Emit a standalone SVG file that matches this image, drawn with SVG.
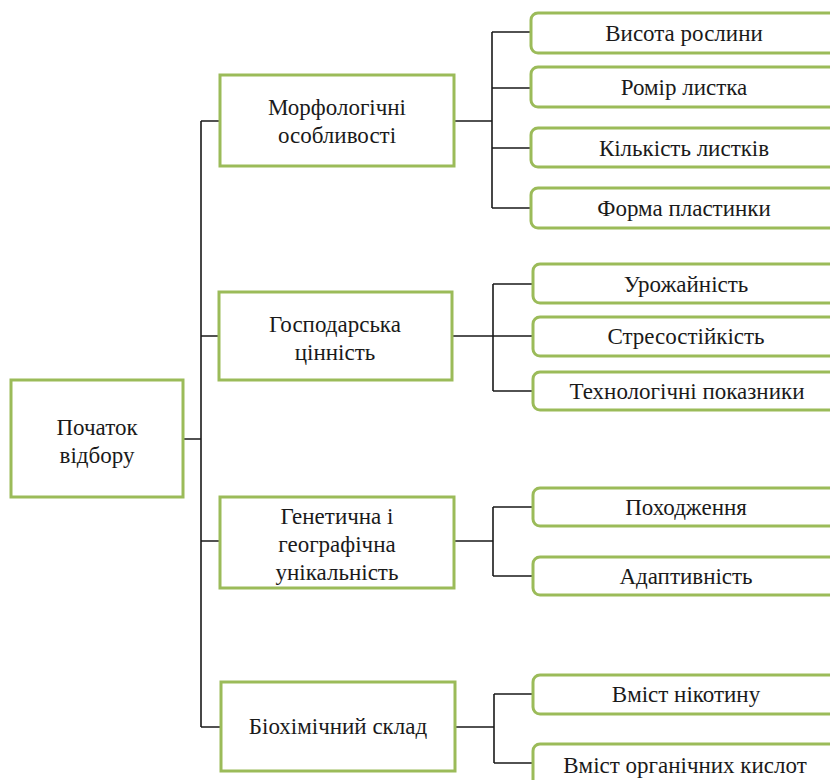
<svg xmlns="http://www.w3.org/2000/svg" width="830" height="780" viewBox="0 0 830 780">
<style>
.box{fill:#fff;stroke:#9BBB59;stroke-width:3}
.t{font-family:"Liberation Serif","Times New Roman",serif;font-size:23px;fill:#1a1a1a;text-anchor:middle}
.c{fill:none;stroke:#1a1a1a;stroke-width:1.6}
</style>
<rect width="830" height="780" fill="#fff"/>
<g id="connectors">
<path class="c" d="M183,439 H201 M201,121 V727 M201,121 H220 M201,336 H219 M201,541 H220 M201,727 H221"/>
<path class="c" d="M454,121 H492 M492,32 V208 M492,32 H531 M492,88 H531 M492,148 H531 M492,208 H531"/>
<path class="c" d="M452,336 H493 M493,284 V391 M493,284 H533 M493,336 H533 M493,391 H533"/>
<path class="c" d="M454,541 H493 M493,507 V576 M493,507 H533 M493,576 H533"/>
<path class="c" d="M455,727 H494 M494,694 V763 M494,694 H533 M494,763 H533"/>
</g>
<g id="root"><rect class="box" x="11" y="380" width="172" height="117"/><text class="t" x="97" y="435">Початок</text><text class="t" x="97" y="463">відбору</text></g>
<g id="morph"><rect class="box" x="220" y="75" width="234" height="91"/><text class="t" x="337" y="115">Морфологічні</text><text class="t" x="337" y="143">особливості</text></g>
<g id="gosp"><rect class="box" x="219" y="292" width="233" height="88"/><text class="t" x="335" y="332">Господарська</text><text class="t" x="335" y="360">цінність</text></g>
<g id="gen"><rect class="box" x="220" y="497" width="234" height="91"/><text class="t" x="337" y="524">Генетична і</text><text class="t" x="337" y="552">географічна</text><text class="t" x="337" y="580">унікальність</text></g>
<g id="bio"><rect class="box" x="221" y="682" width="234" height="89"/><text class="t" x="338" y="734">Біохімічний склад</text></g>
<g id="m1"><rect class="box" x="531" y="13" width="310" height="40" rx="7"/><text class="t" x="684" y="41">Висота рослини</text></g>
<g id="m2"><rect class="box" x="531" y="67" width="310" height="40" rx="7"/><text class="t" x="684" y="95">Ромір листка</text></g>
<g id="m3"><rect class="box" x="531" y="128" width="310" height="39" rx="7"/><text class="t" x="684" y="156">Кількість листків</text></g>
<g id="m4"><rect class="box" x="531" y="188" width="310" height="40" rx="7"/><text class="t" x="684" y="216">Форма пластинки</text></g>
<g id="g1"><rect class="box" x="533" y="264" width="310" height="39" rx="7"/><text class="t" x="686" y="292">Урожайність</text></g>
<g id="g2"><rect class="box" x="533" y="317" width="310" height="39" rx="7"/><text class="t" x="686" y="344">Стресостійкість</text></g>
<g id="g3"><rect class="box" x="533" y="372" width="310" height="38" rx="7"/><text class="t" x="687" y="399">Технологічні показники</text></g>
<g id="n1"><rect class="box" x="533" y="488" width="310" height="38" rx="7"/><text class="t" x="686" y="515">Походження</text></g>
<g id="n2"><rect class="box" x="533" y="557" width="310" height="38" rx="7"/><text class="t" x="686" y="584">Адаптивність</text></g>
<g id="b1"><rect class="box" x="533" y="675" width="310" height="39" rx="7"/><text class="t" x="686" y="702">Вміст нікотину</text></g>
<g id="b2"><rect class="box" x="533" y="744" width="310" height="50" rx="7"/><text class="t" x="685" y="773">Вміст органічних кислот</text></g>
</svg>
